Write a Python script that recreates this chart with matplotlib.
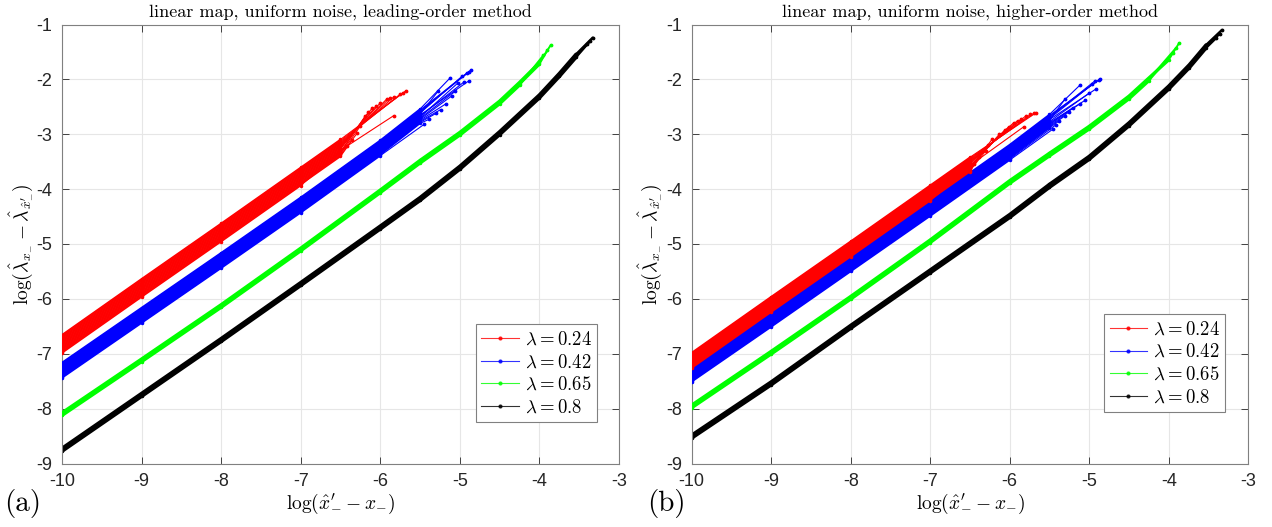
import matplotlib
matplotlib.use("Agg")
import matplotlib.pyplot as plt
from matplotlib.lines import Line2D

plt.rcParams['axes.unicode_minus'] = False
plt.rcParams['mathtext.fontset'] = 'cm'

# ---------------- data ----------------
LAMBDAS = ['0.24', '0.42', '0.65', '0.8']
COLORS = ['#ff0000', '#0000ff', '#00ff00', '#000000']

BAND16 = [0.165, 0.143, 0.121, 0.099, 0.077, 0.055, 0.033, 0.011,
          -0.011, -0.033, -0.055, -0.077, -0.099, -0.121, -0.143, -0.165]
BAND16B = [0.14, 0.121, 0.103, 0.084, 0.065, 0.047, 0.028, 0.009,
           -0.009, -0.028, -0.047, -0.065, -0.084, -0.103, -0.121, -0.14]
THIN3 = [0.025, 0.0, -0.025]

# panel (a): leading-order method
red_a_x = [-10, -9, -8, -7, -6.5]
red_a_y = [-6.82, -5.80, -4.79, -3.77, -3.26]
red_a_tipx = [-5.68, -5.72, -5.75, -5.83, -5.88, -5.92, -6.00, -6.05,
              -6.10, -5.83, -6.15, -6.19, -6.25, -6.29, -6.35, -6.42]
red_a_tipy = [-2.21, -2.25, -2.27, -2.32, -2.34, -2.36, -2.43, -2.48,
              -2.52, -2.66, -2.60, -2.67, -2.85, -2.98, -3.10, -3.22]

blue_a_x = [-10, -9, -8, -7, -6, -5.5]
blue_a_y = [-7.30, -6.30, -5.30, -4.29, -3.25, -2.68]
blue_a_tipx = [-5.12, -4.86, -4.88, -4.91, -4.97, -5.27, -4.89, -4.95,
               -5.02, -5.06, -5.10, -5.18, -5.24, -5.30, -5.39, -5.45]
blue_a_tipy = [-1.97, -1.83, -1.86, -1.88, -1.94, -2.21, -2.03, -2.05,
               -2.06, -2.22, -2.30, -2.45, -2.55, -2.62, -2.73, -2.82]

green_a_x = [-10, -9, -8, -7, -6, -5.5, -5, -4.5, -4.25, -4]
green_a_y = [-8.10, -7.12, -6.13, -5.10, -4.04, -3.50, -2.99, -2.42, -2.08, -1.72]
green_a_tipx = [-3.86, -3.90, -3.95]
green_a_tipy = [-1.38, -1.47, -1.56]

black_a_x = [-10, -9, -8, -7, -6, -5.5, -5, -4.5, -4, -3.75, -3.54]
black_a_y = [-8.75, -7.75, -6.75, -5.73, -4.70, -4.18, -3.61, -2.98, -2.31, -1.92, -1.57]
black_a_tipx = [-3.33, -3.36, -3.40]
black_a_tipy = [-1.24, -1.30, -1.36]

# panel (b): higher-order method
red_b_x = [-10, -9, -8, -7, -6.5]
red_b_y = [-7.12, -6.10, -5.09, -4.07, -3.56]
red_b_tipx = [-5.67, -5.70, -5.74, -5.80, -5.86, -5.90, -5.95, -6.01,
              -5.82, -6.06, -6.13, -6.22, -6.27, -6.30, -6.39, -6.45]
red_b_tipy = [-2.61, -2.62, -2.64, -2.67, -2.73, -2.75, -2.79, -2.86,
              -2.86, -2.92, -3.00, -3.09, -3.20, -3.30, -3.42, -3.55]

blue_b_x = [-10, -9, -8, -7, -6, -5.5]
blue_b_y = [-7.37, -6.37, -5.36, -4.35, -3.33, -2.78]
blue_b_tipx = [-5.12, -4.86, -4.88, -4.93, -4.96, -4.92, -5.30, -5.00,
               -5.05, -5.12, -5.21, -5.26, -5.30, -5.38, -5.42, -5.45]
blue_b_tipy = [-2.11, -1.99, -2.01, -2.03, -2.09, -2.18, -2.35, -2.25,
               -2.38, -2.45, -2.52, -2.60, -2.66, -2.76, -2.83, -2.90]

green_b_x = [-10, -9, -8, -7, -6, -5.5, -5, -4.5, -4.25, -4]
green_b_y = [-7.96, -6.98, -5.98, -4.95, -3.87, -3.37, -2.88, -2.33, -2.00, -1.67]
green_b_tipx = [-3.87, -3.91, -3.95]
green_b_tipy = [-1.34, -1.43, -1.52]

black_b_x = [-10, -9, -8, -7, -6, -5.5, -5, -4.5, -4, -3.74, -3.53]
black_b_y = [-8.51, -7.54, -6.51, -5.50, -4.49, -3.94, -3.43, -2.82, -2.15, -1.76, -1.40]
black_b_tipx = [-3.33, -3.36, -3.40]
black_b_tipy = [-1.10, -1.17, -1.24]

XTICKS = [-10, -9, -8, -7, -6, -5, -4, -3]
YTICKS = [-9, -8, -7, -6, -5, -4, -3, -2, -1]
TITLES = ['linear map, uniform noise, leading-order method',
          'linear map, uniform noise, higher-order method']
PANEL_LABELS = ['(a)', '(b)']

panel_a = [(red_a_x, red_a_y, BAND16, red_a_tipx, red_a_tipy),
           (blue_a_x, blue_a_y, BAND16B, blue_a_tipx, blue_a_tipy),
           (green_a_x, green_a_y, THIN3, green_a_tipx, green_a_tipy),
           (black_a_x, black_a_y, THIN3, black_a_tipx, black_a_tipy)]
panel_b = [(red_b_x, red_b_y, BAND16B, red_b_tipx, red_b_tipy),
           (blue_b_x, blue_b_y, BAND16B, blue_b_tipx, blue_b_tipy),
           (green_b_x, green_b_y, THIN3, green_b_tipx, green_b_tipy),
           (black_b_x, black_b_y, THIN3, black_b_tipx, black_b_tipy)]

# ---------------- figure ----------------
fig = plt.figure(figsize=(12.72, 5.27), dpi=100)
W, H = 1272, 527
ax_a = fig.add_axes([62 / W, 1 - 463.5 / H, 557 / W, 439 / H])
ax_b = fig.add_axes([691.7 / W, 1 - 463.5 / H, 556.5 / W, 439 / H])

tickfont = dict(family='Liberation Sans', size=13)
body_lw = {0: 1.2, 1: 1.2, 2: 2.3, 3: 2.6}
tip_lw = {0: 0.8, 1: 0.8, 2: 1.4, 3: 1.8}


def draw_band(ax, band, color, idx):
    kx, ky, offs, tx, ty = band
    z = 2 + (3 - idx)
    for off, tipx, tipy in zip(offs, tx, ty):
        xs = [x for x in kx if x <= tipx - 0.1]
        ys = [y + off for x, y in zip(kx, ky) if x <= tipx - 0.1]
        ax.plot(xs, ys, color=color, lw=body_lw[idx], marker='.', ms=3,
                solid_capstyle='round', solid_joinstyle='round', zorder=z)
        ax.plot([xs[-1], tipx], [ys[-1], tipy], color=color, lw=tip_lw[idx],
                marker='.', ms=3.5, markevery=[1], solid_capstyle='round', zorder=z)


for ax, bands, title, legpos in [
        (ax_a, panel_a, TITLES[0], (0.743, 0.318)),
        (ax_b, panel_b, TITLES[1], (0.741, 0.341))]:
    for i in range(3, -1, -1):
        draw_band(ax, bands[i], COLORS[i], i)
    ax.set_xlim(-10, -3)
    ax.set_ylim(-9, -1)
    ax.set_xticks(XTICKS)
    ax.set_yticks(YTICKS)
    ax.set_xticklabels([str(t) for t in XTICKS], fontdict=tickfont)
    ax.set_yticklabels([str(t) for t in YTICKS], fontdict=tickfont)
    ax.tick_params(direction='in', length=5, width=0.6, color='#262626',
                   top=True, right=True, pad=7, labelcolor='#262626')
    ax.grid(True, color='#e6e6e6', lw=0.8)
    ax.set_axisbelow(True)
    for s in ax.spines.values():
        s.set_color('#808080')
        s.set_linewidth(0.8)
    ax.set_title(title, family='cmr10', fontsize=13, pad=5)
    ax.set_xlabel(r'$\log(\hat{x}^{\prime}_{-} - x_{-})$', fontsize=14, labelpad=1)
    ax.set_ylabel(r'$\log(\hat{\lambda}_{x_{-}} - \hat{\lambda}_{\hat{x}^{\prime}_{-}})$',
                  fontsize=14, labelpad=2)
    handles = [Line2D([0], [0], color=c, lw=0.8, alpha=0.8, marker='.', ms=4) for c in COLORS]
    labels = [r'$\lambda = %s$' % l for l in LAMBDAS]
    leg = ax.legend(handles, labels, loc='upper left', bbox_to_anchor=legpos,
                    borderaxespad=0, fontsize=13.5, fancybox=False, framealpha=1,
                    edgecolor='#808080', handlelength=2.0, handletextpad=0.3,
                    labelspacing=0.2, borderpad=0.3)
    leg.get_frame().set_linewidth(0.8)

fig.text(4 / W, 1 - 503 / H, PANEL_LABELS[0], family='cmr10', fontsize=21, va='center')
fig.text(647 / W, 1 - 503 / H, PANEL_LABELS[1], family='cmr10', fontsize=21, va='center')

fig.savefig('out.png', dpi=100)
